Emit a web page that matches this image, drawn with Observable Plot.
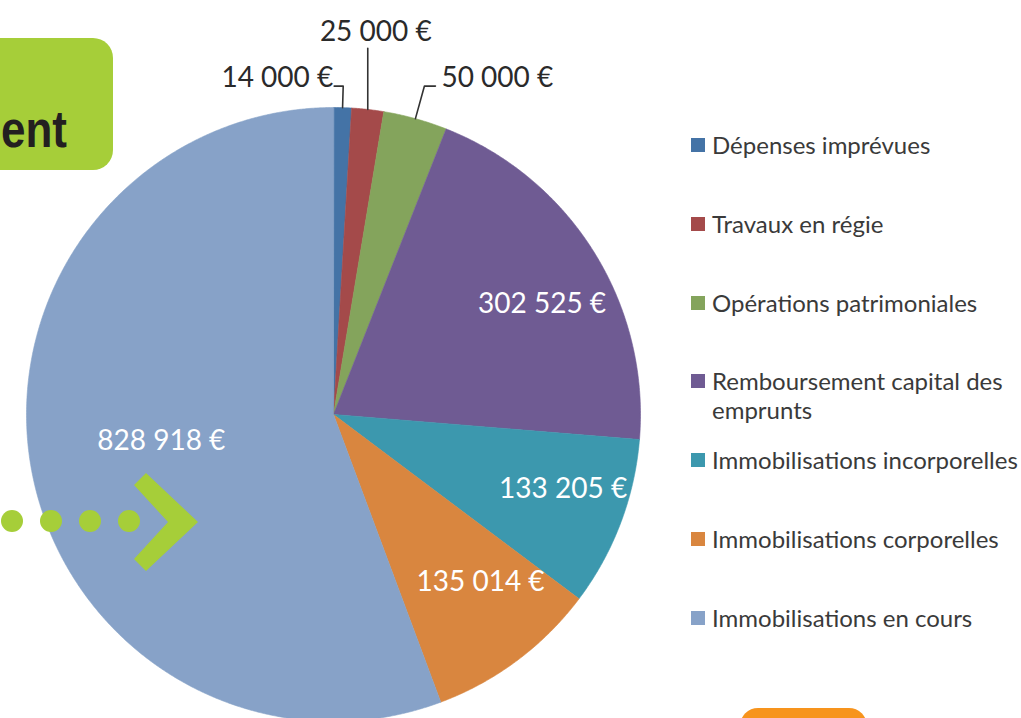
<!DOCTYPE html>
<html>
<head>
<meta charset="utf-8">
<script src="https://cdn.jsdelivr.net/npm/d3@7"></script>
<script src="https://cdn.jsdelivr.net/npm/@observablehq/plot@0.6"></script>
<style>
  html, body { margin: 0; padding: 0; background: #fff; overflow: hidden; }
  #wrap { position: relative; width: 1021px; height: 718px; overflow: hidden; font-family: Lato, "Open Sans", sans-serif; }
  #wrap > svg.deco { position: absolute; left: 0; top: 0; pointer-events: none; }
  #legend { position: absolute; left: 691px; top: 131px; width: 330px; }
  #legend .lg-swatches { font-family: Lato, sans-serif; font-size: 24px; color: #3a3a3a; }
  #legend .lg-swatch { display: flex; align-items: flex-start; height: 78.8px; padding: 0; margin: 0; }
  #legend .lg-swatch > svg { margin: 7px 7px 0 0; flex-shrink: 0; }
  #legend .lg-swatch-label { white-space: normal; overflow: visible; line-height: 29px; margin-top: -1px; }
</style>
</head>
<body>
<div id="wrap"></div>
<script>
// ---- data ----
const categories = [
  "Dépenses imprévues",
  "Travaux en régie",
  "Opérations patrimoniales",
  "Remboursement capital des emprunts",
  "Immobilisations incorporelles",
  "Immobilisations corporelles",
  "Immobilisations en cours"
];
const values = [14000, 25000, 50000, 302525, 133205, 135014, 828918];
const valueLabels = ["14 000 €", "25 000 €", "50 000 €", "302 525 €", "133 205 €", "135 014 €", "828 918 €"];
const colors = ["#4473A6", "#A44A4A", "#84A45C", "#6F5B93", "#3C98AE", "#D9863F", "#87A2C8"];

// ---- layout constants ----
const W = 1021, H = 718;
const CX = 333, CY = 414, R = 307;
const px = R; // pixels per data unit

const arcs = d3.pie().sort(null).value(d => d.value)(
  categories.map((c, i) => ({cat: c, value: values[i], label: valueLabels[i]}))
);
const total = d3.sum(values);

// slice polygons (data space: unit circle, angle 0 at 12 o'clock, clockwise)
const slices = [];
arcs.forEach(a => {
  const n = Math.max(2, Math.ceil((a.endAngle - a.startAngle) / 0.005));
  slices.push({cat: a.data.cat, x: 0, y: 0});
  for (let k = 0; k <= n; k++) {
    const t = a.startAngle + (a.endAngle - a.startAngle) * k / n;
    slices.push({cat: a.data.cat, x: Math.sin(t), y: Math.cos(t)});
  }
});

// inside labels
const inside = arcs.filter(a => a.data.value / total >= 0.05).map(a => {
  const m = (a.startAngle + a.endAngle) / 2;
  const f = a.data.value / total > 0.5 ? 0.57 : 0.8;
  return {x: f * Math.sin(m), y: f * Math.cos(m) * 0.85, label: a.data.label};
});

// outside labels with leader lines (staggered: left, up, right)
const outsideArcs = arcs.filter(a => a.data.value / total < 0.05);
const elbowK = [1.07, 1.2, 1.11];
const leaders = [];
const outside = [];
outsideArcs.forEach((a, i) => {
  const m = (a.startAngle + a.endAngle) / 2;
  const k = elbowK[i % 3];
  const p0 = {x: Math.sin(m), y: Math.cos(m)};
  if (i === 0) {
    const p1 = {x: k * Math.sin(m), y: k * Math.cos(m)};
    const p2 = {x: p1.x - 9 / px, y: p1.y};
    leaders.push({id: i, ...p0}, {id: i, ...p1}, {id: i, ...p2});
    outside.push({x: p2.x, y: p2.y, label: a.data.label, anchor: "end"});
  } else if (i === 1) {
    const p1 = {x: p0.x, y: k * Math.cos(m)};
    leaders.push({id: i, ...p0}, {id: i, ...p1});
    outside.push({x: p1.x, y: p1.y, label: a.data.label, anchor: "middle"});
  } else {
    const p1 = {x: k * Math.sin(m), y: k * Math.cos(m)};
    const p2 = {x: p1.x + 11 / px, y: p1.y};
    leaders.push({id: i, ...p0}, {id: i, ...p1}, {id: i, ...p2});
    outside.push({x: p2.x, y: p2.y, label: a.data.label, anchor: "start"});
  }
});

const plot = Plot.plot({
  width: W,
  height: H,
  margin: 0,
  style: {background: "transparent", fontFamily: "Lato, sans-serif"},
  x: {domain: [-1, 1], range: [CX - R, CX + R], axis: null},
  y: {domain: [-1, 1], range: [CY + R, CY - R], axis: null},
  color: {domain: categories, range: colors},
  marks: [
    Plot.line(slices, {x: "x", y: "y", z: "cat", fill: "cat", stroke: "cat", strokeWidth: 0.6, curve: "linear-closed"}),
    Plot.line(leaders, {x: "x", y: "y", z: "id", stroke: "#333", strokeWidth: 1.6}),
    Plot.text(inside, {x: "x", y: "y", text: "label", fill: "white", fontSize: 28}),
    Plot.text(outside.filter(d => d.anchor === "end"), {x: "x", y: "y", text: "label", fill: "#2a2a2a", fontSize: 28, textAnchor: "end", dx: -1, dy: -8}),
    Plot.text(outside.filter(d => d.anchor === "middle"), {x: "x", y: "y", text: "label", fill: "#2a2a2a", fontSize: 28, textAnchor: "middle", dx: 8, dy: -16}),
    Plot.text(outside.filter(d => d.anchor === "start"), {x: "x", y: "y", text: "label", fill: "#2a2a2a", fontSize: 28, textAnchor: "start", dx: 6, dy: -8})
  ]
});

const wrap = document.getElementById("wrap");

// background decoration (green title box)
const back = d3.create("svg").attr("class", "deco").attr("width", W).attr("height", H);
back.append("rect").attr("x", -30).attr("y", 38).attr("width", 143).attr("height", 132).attr("rx", 20).attr("fill", "#A6CE39");
back.append("text").attr("x", 1).attr("y", 147).attr("text-anchor", "start")
  .attr("font-family", "'Liberation Sans', Arial, sans-serif").attr("font-weight", "bold")
  .attr("font-size", 52).attr("textLength", 66).attr("lengthAdjust", "spacingAndGlyphs")
  .attr("fill", "#231F20").text("ent");
back.append("rect").attr("x", 740).attr("y", 708).attr("width", 127).attr("height", 40).attr("rx", 18).attr("fill", "#F7941D");
wrap.appendChild(back.node());

plot.style.position = "absolute";
plot.style.left = "0px";
plot.style.top = "0px";
wrap.appendChild(plot);

// foreground decoration (dots and chevron over the pie)
const front = d3.create("svg").attr("class", "deco").attr("width", W).attr("height", H);
[12, 51, 90, 129].forEach(cx => front.append("circle").attr("cx", cx).attr("cy", 521).attr("r", 11).attr("fill", "#A6CE39"));
front.append("polygon").attr("points", "146,473 198,522 146,571 134,559 168,522 134,485").attr("fill", "#A6CE39");
wrap.appendChild(front.node());

// legend
const leg = plot.legend("color", {legend: "swatches", columns: 1, swatchSize: 14, className: "lg"});
const legDiv = document.createElement("div");
legDiv.id = "legend";
legDiv.appendChild(leg);
wrap.appendChild(legDiv);
</script>
</body>
</html>
